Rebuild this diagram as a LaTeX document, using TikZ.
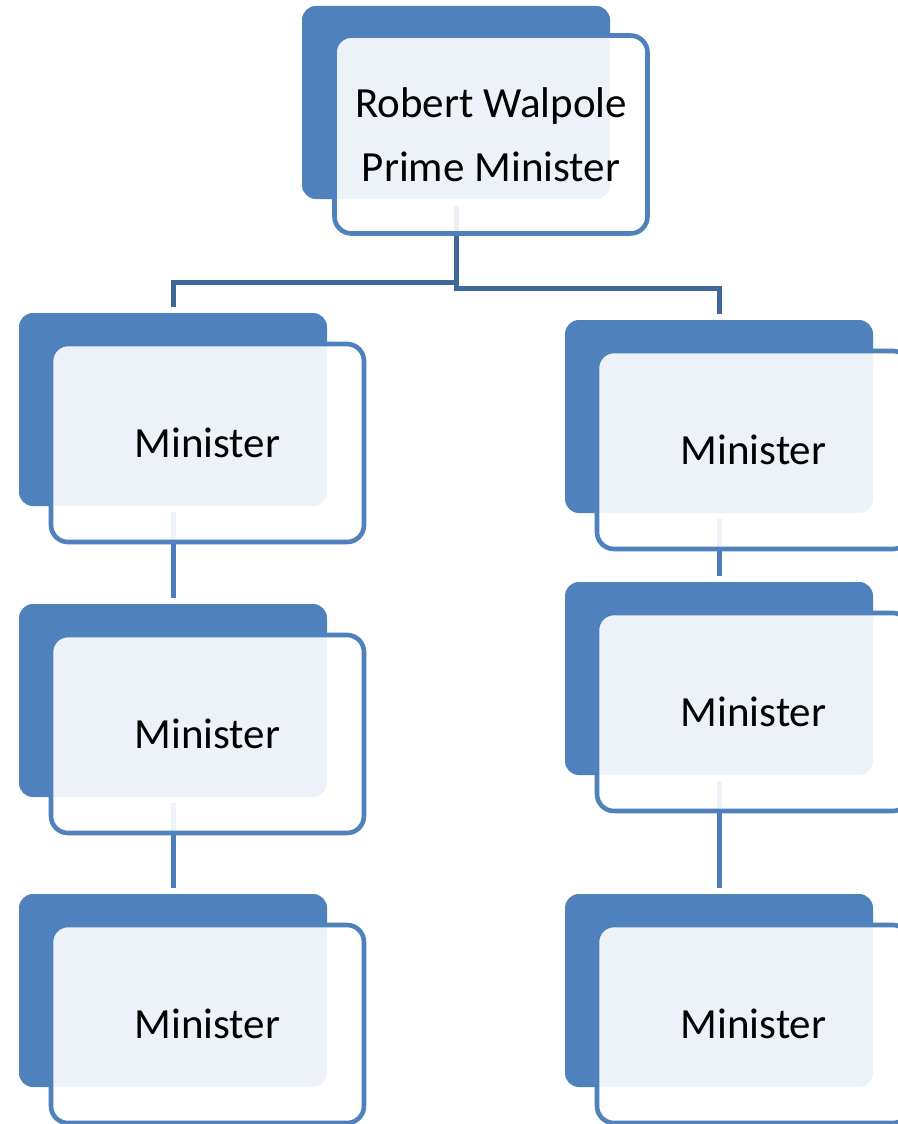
\documentclass[tikz,border=0pt]{standalone}
\usepackage{fontspec}
\setmainfont{Carlito}
\definecolor{backblue}{HTML}{4F81BD}
\definecolor{elbowblue}{HTML}{3F6799}
\definecolor{vertblue}{HTML}{4B7DBA}
\begin{document}
\begin{tikzpicture}[x=1pt,y=-1pt,
  backbox/.style={rectangle, rounded corners=14pt, fill=backblue, minimum width=308pt, minimum height=193pt, inner sep=0pt, outer sep=0pt, anchor=north west},
  frontbox/.style={rectangle, rounded corners=17pt, draw=backblue, line width=4.6pt, fill=white, fill opacity=0.9, draw opacity=1, text opacity=1, minimum width=313pt, minimum height=198pt, inner sep=0pt, outer sep=0pt, anchor=north west, font=\fontsize{43}{64}\selectfont, align=center, text=black},
  elbow/.style={draw=elbowblue, line width=5pt, shorten <=7pt, shorten >=6pt},
  vline/.style={draw=vertblue, line width=5pt, shorten <=6pt, shorten >=6pt}]
\useasboundingbox (0,0) rectangle (897,1124);
\fill[white] (0,0) rectangle (897,1124);
% back boxes
\node[backbox] (tb) at (302,6) {};
\node[backbox] (l1b) at (19,313) {};
\node[backbox] (l2b) at (19,604) {};
\node[backbox] (l3b) at (19,894) {};
\node[backbox] (r1b) at (565,320) {};
\node[backbox] (r2b) at (565,582) {};
\node[backbox] (r3b) at (565,894) {};
% connectors
\coordinate (ml) at (0,282);
\coordinate (mr) at (0,288);
\draw[elbow] (tb.south) -- (tb.south |- ml) -- (l1b.north |- ml) -- (l1b.north);
\draw[elbow] (tb.south) -- (tb.south |- mr) -- (r1b.north |- mr) -- (r1b.north);
\draw[vline] (l1b.south) -- (l2b.north);
\draw[vline] (l2b.south) -- (l3b.north);
\draw[vline] (r1b.south) -- (r2b.north);
\draw[vline] (r2b.south) -- (r3b.north);
% front boxes
\node[frontbox] (tf) at ([shift={(32.5,29.5)}]tb.north west) {Robert Walpole\\Prime Minister};
\node[frontbox] (l1f) at ([shift={(32,31)}]l1b.north west) {Minister};
\node[frontbox] (l2f) at ([shift={(32,31)}]l2b.north west) {Minister};
\node[frontbox] (l3f) at ([shift={(32,31)}]l3b.north west) {Minister};
\node[frontbox] (r1f) at ([shift={(32,31)}]r1b.north west) {Minister};
\node[frontbox] (r2f) at ([shift={(32,31)}]r2b.north west) {Minister};
\node[frontbox] (r3f) at ([shift={(32,31)}]r3b.north west) {Minister};
\end{tikzpicture}
\end{document}
